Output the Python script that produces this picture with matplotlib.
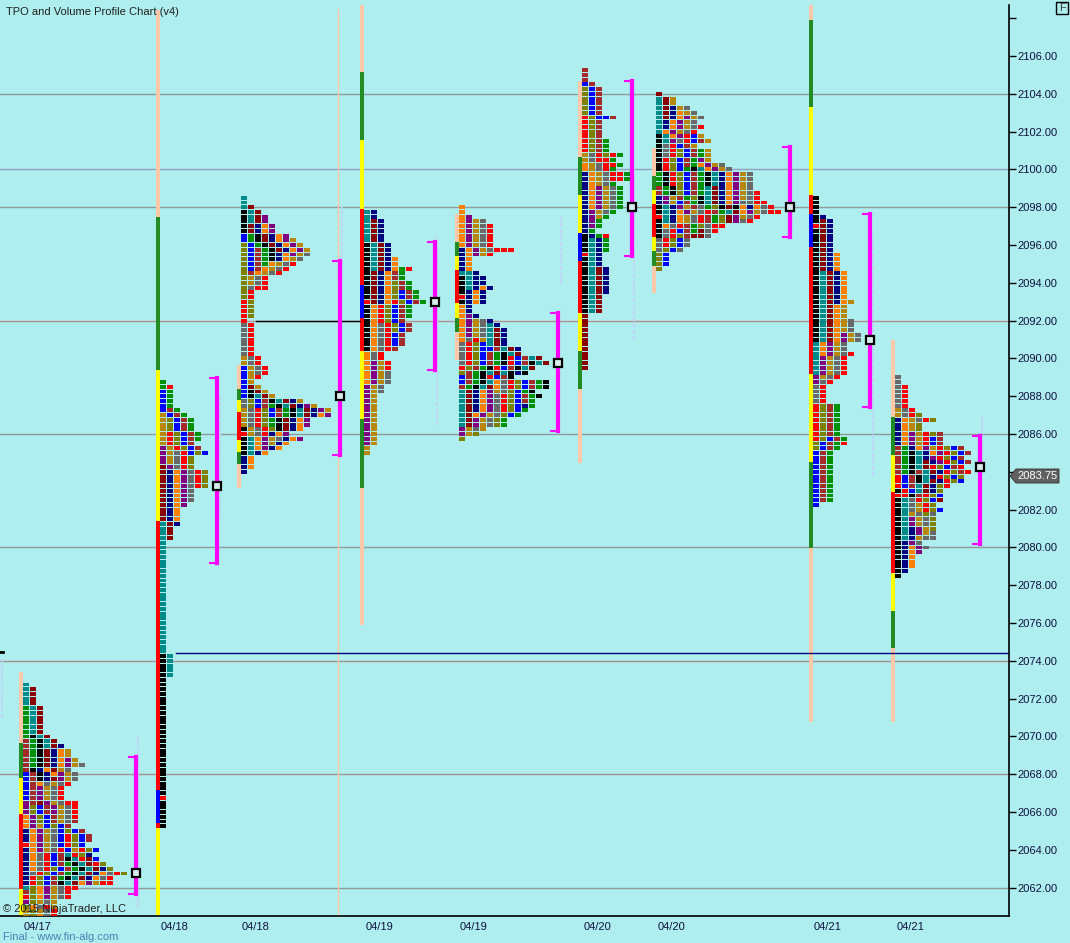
import matplotlib
matplotlib.use('Agg')
from matplotlib import pyplot as plt
from matplotlib.patches import Polygon, Rectangle

plt.rcParams['font.family'] = ['Liberation Sans', 'DejaVu Sans']

# tpo period colours
cols = {'T': '#008b8b', 'M': '#8b0000', 'K': '#000000', 'G': '#009000', 'N': '#000080',
        'P': '#800080', 'O': '#ff8000', 'A': '#b8860b', 'Y': '#696969', 'R': '#ff0000',
        'B': '#0000ff', 'W': '#a52a2a', 'L': '#808000'}
sess_cols = {'p': '#ffc8a8', 'g': '#228b22', 'y': '#ffff00', 'r': '#ff0000', 'b': '#0000ff'}

# every row of a profile from top to bottom, "ABC*3" = the row repeated 3 times
prof1 = """T TM*4 GTM*6 GKTM WGKTM WGKTMN WGKMNOA*2 WGKMNOPA WGKMNOPAY WKNOMAY BWKNOPAY BWKNMPAY
BWOYAYR BWPAYR*3 PWMPAYRR PLBWPAYR*2 OPLBWAYR OPLBWAYW OPABLBW NOPAYBLBW NOPAYBRLBW*2 ROPAYBRLB
NOPAYRBARLB NOYRBWTRLN NOYRBWKTRMB NOYRBWGKTMRL NOYRLBWGKTMNL NYRLBWGKTMNOYRL NRLBWGKTMNOYR
NRLBWKTMOPARR TLOPAYRR WLOPAYR RLOPAYR PLAYA LOYRA ALAYR ALOYR"""
prof2 = """G GR BG*4 BWG ABWG ALBWG*3 ARLBWG*2 ARLBW PARLBW PAYRBLB PAYRL*2 MPYRL MNOPYRL*4 MNOPY*3
MNOP MNO*3 TMN TM*3 T*24 KT*5 K*25 R K*6"""
prof3 = """T*2 TM KTM KTMP*2 KMNOP*2 BGKMNOP BGKMNOPA LBGKMNOPA LBWGKMNOPA LBWGKNOPAY LBWGKNOAY LBWGOAYR
LBWOAYR LWOAYR LAYR*2 LYRR LR*2 RL*4 R YR*7 AYR*2 BAYR*2 BAR BA BMA BKMA BKTMA YLBWKTMNA YLBWGKTMNPA
AYRLBWGKTMNPA AYRLBWGKTMNOP AYRLGKMNOP*2 KAYRLKMNO RAYRNOP KTOPAYNOP KTOPANO KTOPNO KTNO NO*3 N"""
prof4 = """TN*2 TMN*5 KTMN*3 KTMNO*2 KTMNOGR KMNOWG*2 KMNOLWG*2 KMNOLBWG*2 RMNORLBWG KORLBWG*3 KORLBW
KOYRLBW*2 KOYRBW*3 KOYRW OYR*2 OPAR*2 OPAY*3 PAY*2 PA*11 A*2"""
prof5 = """O*2 OP OPAY OPAYR*5 NOPAYRRR NOPAR NO*3 TTN KTNN*2 KTNON KNON RNON KNON ON*2 OPN OPAYN OPAYTN
OPAYTMN*2 OYRATMN YRLBTMN YRLBBWTMN YRLBWGKTM YRLBWGKRBWTM YRLBWGKRBWKTM RLWGKRBWKTM LWGKTMTKNK
BWGKRBWK BWGKTOYRLBWGK WGKTMOYRLBWGK TMNOPAYLBGK TMNOPYRLBWGK TMNOPYRLBWG TMNOPYRLBNG TMNOPYRLBG
TMOPAYLBG TMPAYLG*2 PAYA PAL L"""
prof6 = """W*3 BW LBW*6 RLBBW RLW*4 RLWG*3 AYRLRG AYRRG OAYRRG OAYRG NOAYRRG*2 NOAYG NOPAYG*5 NPAYG NPAG NPG*2
NG KNGR KTNG*3 RTN KTN*2 KTMN*6 KTM*4 M*12"""
prof7 = """M TMA*2 TMNAY TMNOAY TMNOPAY TNOPAY TNOPAYR TOPAYR KTOPRBA KTPYRBWA KYRBWA KYRLBWGA*2 KRLBWGPA
KRLBWGOPAY KRLBGKTOPAY GKRLBWGKTNOPAY*3 WGKLBWGTMNOPAY WGKLBWGTMNOPAYR NPAWGLKTMNOPAYR
NPABWGKTMNOPYYRR KTNPAWYGLKMKONOYR KTNOPAYRWGTMOPAYRR RTNOAYRWGLMPAYR KTNOAYRWGLMPYR KOYRWGLYRR
KYRBWGMYR KYRLWMMY YRLBY*2 YLBY LB*3 L"""
prof8 = """K*4 KN KMN RMN KMN*5 KMNO*4 KTMNO*6 KTMNOA KTMOA*3 KTMOAY*3 KTMOPAY*2 TOPAY*2 TOPAYR TPAYR*4 PAYR PYR YR*4
RLWG*7 RLBWG LBWGR LBWG BWG*11 B"""
prof9 = """Y*2 YR*5 AYR AYRL NOAYRL NOAL*2 NOPARLW NOPARBW*2 WGNOPARLBW WGKTNOPRLBW WGKTNPRLBW WGKTMNPRLBW
WGKTMRLBWR WGKWTMNRLWR RBWKTNRLBL RBWKTMNRLB RBWTMNLR KRBTMNL RRKWRLB KTYRLBM KTYARL KTYARLB KTAYLY
KTPAYL*2 KTNPAL KTNPAY KTNAYY KNPY KNOPY KNOP KNO*3 KN K"""
profiles = [prof1, prof2, prof3, prof4, prof5, prof6, prof7, prof8, prof9]
top_price = [2072.75, 2088.75, 2098.5, 2097.75, 2098.0, 2105.25, 2104.0, 2098.5, 2089.0]
col_x = [23, 160, 241, 364, 459, 582, 656, 813, 895]

# session range bars, edges in price
sess_edges = [[2073.41, 2069.65, 2067.8, 2065.89, 2061.93, 2060.55],
              [2108.43, 2097.48, 2089.39, 2081.4, 2067.16, 2065.42, 2065.15, 2060.55],
              [2089.65, 2088.38, 2087.8, 2087.16, 2085.68, 2085.05, 2084.41, 2083.14],
              [2108.7, 2105.15, 2101.56, 2097.9, 2093.88, 2092.14, 2090.39, 2086.79, 2083.14, 2075.89],
              [2097.64, 2096.16, 2095.42, 2094.68, 2092.93, 2092.14, 2091.4, 2089.92],
              [2104.68, 2100.66, 2098.65, 2096.63, 2095.15, 2092.4, 2090.39, 2088.38, 2084.47],
              [2101.13, 2099.65, 2098.91, 2098.17, 2096.42, 2095.68, 2094.89, 2093.46],
              [2108.7, 2107.9, 2103.3, 2098.65, 2097.64, 2095.89, 2089.17, 2084.52, 2079.97, 2070.76],
              [2090.97, 2086.9, 2084.89, 2082.93, 2078.65, 2076.63, 2074.68, 2070.76]]
sess_seq = ['pgyry', 'pgyrbry', 'pgyrygp', 'pgyrbrygp', 'pgyrygp', 'pgybrygp', 'pgyrygp', 'pgyrbrygp', 'pgyrygp']

# value area brackets and poc
va_high = [2068.91, 2088.94, 2095.15, 2096.16, 2092.4, 2104.7, 2101.19, 2097.64, 2085.89]
va_low = [2061.66, 2079.17, 2084.89, 2089.39, 2086.16, 2095.42, 2096.42, 2087.43, 2080.18]
poc = [2062.75, 2083.25, 2088.0, 2093.0, 2089.75, 2098.0, 2098.0, 2091.0, 2084.25]
va_x = [136, 217, 340, 435, 558, 632, 790, 870, 980]

grid_prices = [2104, 2100, 2098, 2092, 2086, 2080, 2074, 2068, 2062]
grid_cols = ['#909a9a', '#8f9fc0', '#909a9a', '#b09090', '#909a9a', '#909a9a', '#a89090', '#a89090', '#909a9a']
tick_prices = [2108, 2106, 2104, 2102, 2100, 2098, 2096, 2094, 2092, 2090, 2088, 2086, 2084, 2082, 2080,
               2078, 2076, 2074, 2072, 2070, 2068, 2066, 2064, 2062]
date_labels = ['04/17', '04/18', '04/18', '04/19', '04/19', '04/20', '04/20', '04/21', '04/21']
date_x = [38, 175, 256, 379, 474, 598, 672, 828, 911]
last_price = 2083.75

# faint volume ticks next to the brackets: x, high, low
vol_x = [2, 138, 220, 342, 437, 561, 634, 792, 873, 982]
vol_high = [2074.1, 2070.0, 2088.0, 2098.0, 2096.5, 2097.6, 2100.0, 2098.0, 2096.5, 2087.0]
vol_low = [2071.0, 2061.0, 2081.5, 2094.0, 2086.5, 2094.0, 2091.0, 2097.0, 2083.8, 2084.4]


def expand(txt):
    rows = []
    for tok in txt.split():
        if '*' in tok:
            s, n = tok.split('*')
            rows += [s] * int(n)
        else:
            rows.append(tok)
    return rows


bg = '#afeeee'
fig = plt.figure(figsize=(10.7, 9.43), dpi=100, facecolor=bg)
ax = fig.add_axes([0, 27 / 943, 1009 / 1070, 916 / 943], facecolor=bg)
ax.set_xlim(0, 1009)
ax.set_ylim(2060.5, 2108.963)

for g, c in zip(grid_prices, grid_cols):
    ax.axhline(g, color=c, lw=1, zorder=1)
ax.plot([338, 338], [2060.5, 2108.5], color='#ffc8a8', lw=1, zorder=1)

for x, hi, lo in zip(vol_x, vol_high, vol_low):
    ax.plot([x, x], [lo, hi], color='#c0d4f8', lw=1.5, ls=(0, (2, 1)), zorder=1)

# session bars
for x, edges, seq in zip(col_x, sess_edges, sess_seq):
    for i, s in enumerate(seq):
        ax.bar(x - 4, edges[i] - edges[i + 1], width=4, bottom=edges[i + 1], align='edge',
               color=sess_cols[s], lw=0, zorder=2, antialiased=False)

# tpo cells
for txt, top, x0 in zip(profiles, top_price, col_x):
    lefts, bots, cc = [], [], []
    for r, row in enumerate(expand(txt)):
        for k, ch in enumerate(row):
            lefts.append(x0 + k * 7)
            bots.append(top - r * 0.25 - 0.105)
            cc.append(cols[ch])
    ax.bar(lefts, 0.207, width=6, bottom=bots, align='edge', color=cc, lw=0, zorder=3, antialiased=False)

# brackets
for x, hi, lo, p in zip(va_x, va_high, va_low, poc):
    ax.plot([x, x], [hi, lo], color='#ff00ff', lw=3, solid_capstyle='projecting', zorder=4)
    ax.plot([x - 8, x], [hi, hi], color='#ff00ff', lw=1.5, solid_capstyle='butt', zorder=4)
    ax.plot([x - 8, x], [lo, lo], color='#ff00ff', lw=1.5, solid_capstyle='butt', zorder=4)
    ax.plot([x], [p], marker='s', ms=5.5, mfc='#d8ecec', mec='black', mew=1.6, zorder=5)

ax.plot([256, 360], [2091.98, 2091.98], color='black', lw=1, zorder=2)
ax.plot([176, 1009], [2074.43, 2074.43], color='#000080', lw=1, zorder=2)
ax.plot([0, 3], [2074.45, 2074.45], color='black', lw=2, zorder=2)

for s in ['top', 'left']:
    ax.spines[s].set_visible(False)
ax.spines['right'].set_bounds(2060.5, 2108.7)
ax.spines['right'].set_linewidth(1.2)
ax.spines['bottom'].set_linewidth(1.2)
ax.yaxis.tick_right()
ax.set_yticks(tick_prices)
ax.set_yticklabels(['' if t == 2108 or t == 2084 else '%.2f' % t for t in tick_prices], fontsize=8, color='#101040')
ax.tick_params(axis='y', length=5, width=1, pad=1)
ax.set_xticks(date_x)
ax.set_xticklabels(date_labels, fontsize=8, color='#101040')
ax.tick_params(axis='x', length=0, pad=4)

ax.text(6, 2108.33, 'TPO and Volume Profile Chart (v4)', fontsize=8, color='#202020', va='center', zorder=6)
ax.text(3, 2060.85, '\u00a9 2015 NinjaTrader, LLC', fontsize=8, color='#202020', va='center', zorder=6)
fig.text(3 / 1070, 1 - 937 / 943, 'Final - www.fin-alg.com', fontsize=8, color='#4682b4', va='center')

# last price tag and F button
tag = Polygon([[1010 / 1070, 1 - 476 / 943], [1016 / 1070, 1 - 469 / 943], [1059 / 1070, 1 - 469 / 943],
               [1059 / 1070, 1 - 483 / 943], [1016 / 1070, 1 - 483 / 943]], closed=True,
              transform=fig.transFigure, fc='#606060', ec='#303030', lw=0.6)
fig.add_artist(tag)
fig.text(1038 / 1070, 1 - 476 / 943, '%.2f' % last_price, fontsize=8, color='white', ha='center', va='center')
fig.add_artist(Rectangle((1056 / 1070, 1 - 14 / 943), 12 / 1070, 12 / 943, transform=fig.transFigure,
                         fc=bg, ec='black', lw=1))
fig.text(1062 / 1070, 1 - 8 / 943, 'F', fontsize=8, color='#404040', ha='center', va='center')

fig.savefig('out.png', dpi=100, facecolor=bg)
